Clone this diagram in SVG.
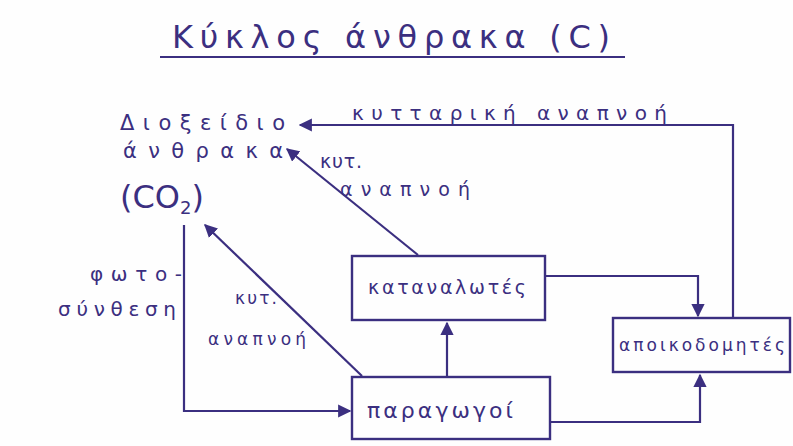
<svg xmlns="http://www.w3.org/2000/svg" width="793" height="446" viewBox="0 0 793 446">
<style>
.t{font-family:"DejaVu Sans","Noto Sans",sans-serif;fill:#3b2f80;}
.ln{stroke:#3b2f80;stroke-width:2.2;fill:none;}
.box{stroke:#3b2f80;stroke-width:2.4;fill:none;}
</style>
<defs>
<marker id="ah" viewBox="0 0 10 10" refX="9" refY="5" markerWidth="6" markerHeight="6" orient="auto-start-reverse">
<path d="M0,0 L10,5 L0,10 z" fill="#3b2f80"/>
</marker>
</defs>
<rect width="793" height="446" fill="#fefefe"/>
<g id="title">
<text class="t" x="172" y="48" font-size="32" textLength="438" lengthAdjust="spacing">Κύκλος άνθρακα (C)</text>
<line class="ln" x1="160" y1="57" x2="625" y2="57" stroke-width="1.6"/>
</g>
<g id="co2">
<text class="t" x="120" y="130" font-size="21" textLength="165" lengthAdjust="spacing">Διοξείδιο</text>
<text class="t" x="123" y="158" font-size="21" textLength="160" lengthAdjust="spacing">άνθρακα</text>
<text class="t" x="120" y="208" font-size="32">(CO<tspan font-size="18" dy="6">2</tspan><tspan dy="-6">)</tspan></text>
</g>
<g id="katanalotes">
<rect class="box" x="352" y="256" width="193" height="64"/>
<text class="t" x="368" y="294" font-size="19" textLength="158" lengthAdjust="spacing">καταναλωτές</text>
</g>
<g id="apoikodomites">
<rect class="box" x="613" y="318" width="177" height="54"/>
<text class="t" x="619" y="351" font-size="17" textLength="166" lengthAdjust="spacing">αποικοδομητές</text>
</g>
<g id="paragogoi">
<rect class="box" x="352" y="377" width="198" height="62"/>
<text class="t" x="367" y="418" font-size="22" textLength="146" lengthAdjust="spacing">παραγωγοί</text>
</g>
<g id="connectors">
<polyline class="ln" points="733,318 733,125 300,125" marker-end="url(#ah)"/>
<line class="ln" x1="418" y1="255" x2="287" y2="149" marker-end="url(#ah)"/>
<line class="ln" x1="362" y1="376" x2="205" y2="225" marker-end="url(#ah)"/>
<polyline class="ln" points="184,225 184,411 350,411" marker-end="url(#ah)"/>
<line class="ln" x1="447" y1="376" x2="447" y2="323" marker-end="url(#ah)"/>
<polyline class="ln" points="545,276 698,276 698,316" marker-end="url(#ah)"/>
<polyline class="ln" points="550,422 700,422 700,375" marker-end="url(#ah)"/>
</g>
<g id="labels">
<text class="t" x="352" y="120" font-size="20" textLength="315" lengthAdjust="spacing">κυτταρική αναπνοή</text>
<text class="t" x="320" y="168" font-size="19" textLength="42" lengthAdjust="spacing">κυτ.</text>
<text class="t" x="340" y="196" font-size="19" textLength="130" lengthAdjust="spacing">αναπνοή</text>
<text class="t" x="235" y="304" font-size="17" textLength="42" lengthAdjust="spacing">κυτ.</text>
<text class="t" x="208" y="345" font-size="17" textLength="98" lengthAdjust="spacing">αναπνοή</text>
<text class="t" x="90" y="281" font-size="20" textLength="92" lengthAdjust="spacing">φωτο-</text>
<text class="t" x="58" y="316" font-size="20" textLength="118" lengthAdjust="spacing">σύνθεση</text>
</g>
</svg>
